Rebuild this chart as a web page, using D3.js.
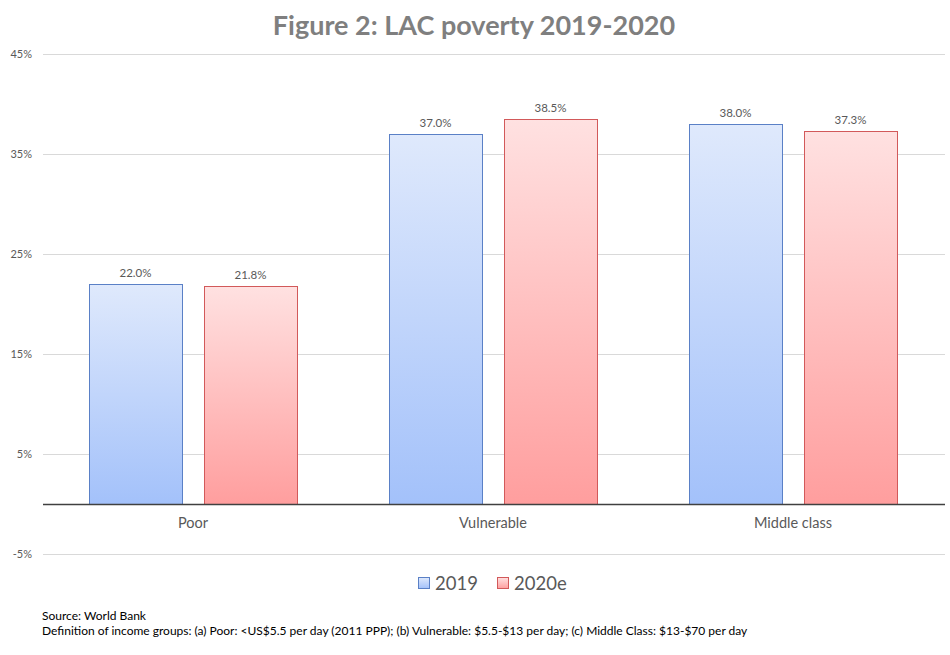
<!DOCTYPE html>
<html><head><meta charset="utf-8">
<script src="https://cdn.jsdelivr.net/npm/d3@7"></script>
<style>body{margin:0;background:#fff}svg{display:block;font-family:Lato,"Open Sans",sans-serif}</style>
</head><body><svg id="c" width="950" height="655"></svg>
<script>
const categories = ["Poor", "Vulnerable", "Middle class"];
const seriesNames = ["2019", "2020e"];
const values2019 = [22.0, 37.0, 38.0];
const values2020 = [21.8, 38.5, 37.3];
const yTicks = [-5, 5, 15, 25, 35, 45];
const title = "Figure 2: LAC poverty 2019-2020";
const notes = ["Source: World Bank", "Definition of income groups: (a) Poor: <US$5.5 per day (2011 PPP); (b) Vulnerable: $5.5-$13 per day; (c) Middle Class: $13-$70 per day"];

const svg = d3.select("#c");
const W = 950, H = 655;
const m = {l: 43, r: 5, t: 54, b: 101};
const x0 = d3.scaleBand().domain(categories).range([m.l, m.l + 900]).paddingInner(0).paddingOuter(0);
const x1 = d3.scaleBand().domain(seriesNames).range([0, x0.bandwidth()]).paddingInner(0.191).paddingOuter(0.4);
const y = d3.scaleLinear().domain([-5, 45]).range([H - m.b, m.t]);

const defs = svg.append("defs");
const grads = [{id: "gb", top: "#dfe9fc", bot: "#a3c1fa", stroke: "#5a80c6"}, {id: "gr", top: "#ffe1e1", bot: "#ff9e9e", stroke: "#d2595a"}];
grads.forEach(g => {
  const lg = defs.append("linearGradient").attr("id", g.id).attr("x1", 0).attr("x2", 0).attr("y1", 0).attr("y2", 1);
  lg.append("stop").attr("offset", "0%").attr("stop-color", g.top);
  lg.append("stop").attr("offset", "100%").attr("stop-color", g.bot);
});

svg.append("text").attr("x", 474).attr("y", 35).attr("text-anchor", "middle")
  .attr("font-size", 27).attr("font-weight", "bold").attr("fill", "#7f7f7f").text(title);

// grid
const ya = d3.axisLeft(y).tickValues(yTicks).tickSize(-(W - m.r - m.l)).tickFormat(d => d + "%");
const g = svg.append("g").attr("transform", `translate(${m.l},0)`).call(ya);
g.select(".domain").remove();
g.selectAll(".tick line").attr("stroke", "#d9d9d9").attr("stroke-width", 1);
g.selectAll(".tick text").attr("x", -11).attr("fill", "#595959").attr("font-size", 11).attr("font-family", "Lato, sans-serif");

const data = categories.map((c, i) => ({c, vals: [{s: "2019", v: values2019[i]}, {s: "2020e", v: values2020[i]}]}));
const groups = svg.selectAll(".grp").data(data).join("g").attr("transform", d => `translate(${x0(d.c)},0)`);
groups.selectAll("rect").data(d => d.vals).join("rect")
  .attr("x", d => Math.round(x1(d.s)) + 0.5).attr("width", Math.round(x1.bandwidth()))
  .attr("y", d => y(d.v) + 0.5).attr("height", d => y(0) - y(d.v))
  .attr("fill", (d, i) => `url(#${grads[i].id})`).attr("stroke", (d, i) => grads[i].stroke).attr("stroke-width", 1);
groups.selectAll("text.lbl").data(d => d.vals).join("text").attr("class", "lbl")
  .attr("x", d => x1(d.s) + x1.bandwidth() / 2).attr("y", d => y(d.v) - 7)
  .attr("text-anchor", "middle").attr("font-size", 11.5).attr("fill", "#595959").text(d => d.v.toFixed(1) + "%");

// zero line
svg.append("line").attr("x1", m.l).attr("x2", W - m.r).attr("y1", y(0) + 0.5).attr("y2", y(0) + 0.5).attr("stroke", "#404040").attr("stroke-width", 1.3);

// category labels
svg.selectAll(".cat").data(categories).join("text").attr("class", "cat")
  .attr("x", d => x0(d) + x0.bandwidth() / 2).attr("y", y(0) + 24).attr("text-anchor", "middle")
  .attr("font-size", 14.5).attr("fill", "#595959").text(d => d);

// legend
const legX = [418, 497];
seriesNames.forEach((s, i) => {
  svg.append("rect").attr("x", legX[i] + 0.5).attr("y", 577.5).attr("width", 11).attr("height", 11)
    .attr("fill", `url(#${grads[i].id})`).attr("stroke", grads[i].stroke);
  svg.append("text").attr("x", legX[i] + 17).attr("y", 590).attr("font-size", 18.5).attr("fill", "#595959").text(s);
});

svg.selectAll(".note").data(notes).join("text").attr("class", "note")
  .attr("x", 42).attr("y", (d, i) => 620 + i * 15).attr("font-size", 12).attr("fill", "#000").text(d => d);
</script></body></html>
